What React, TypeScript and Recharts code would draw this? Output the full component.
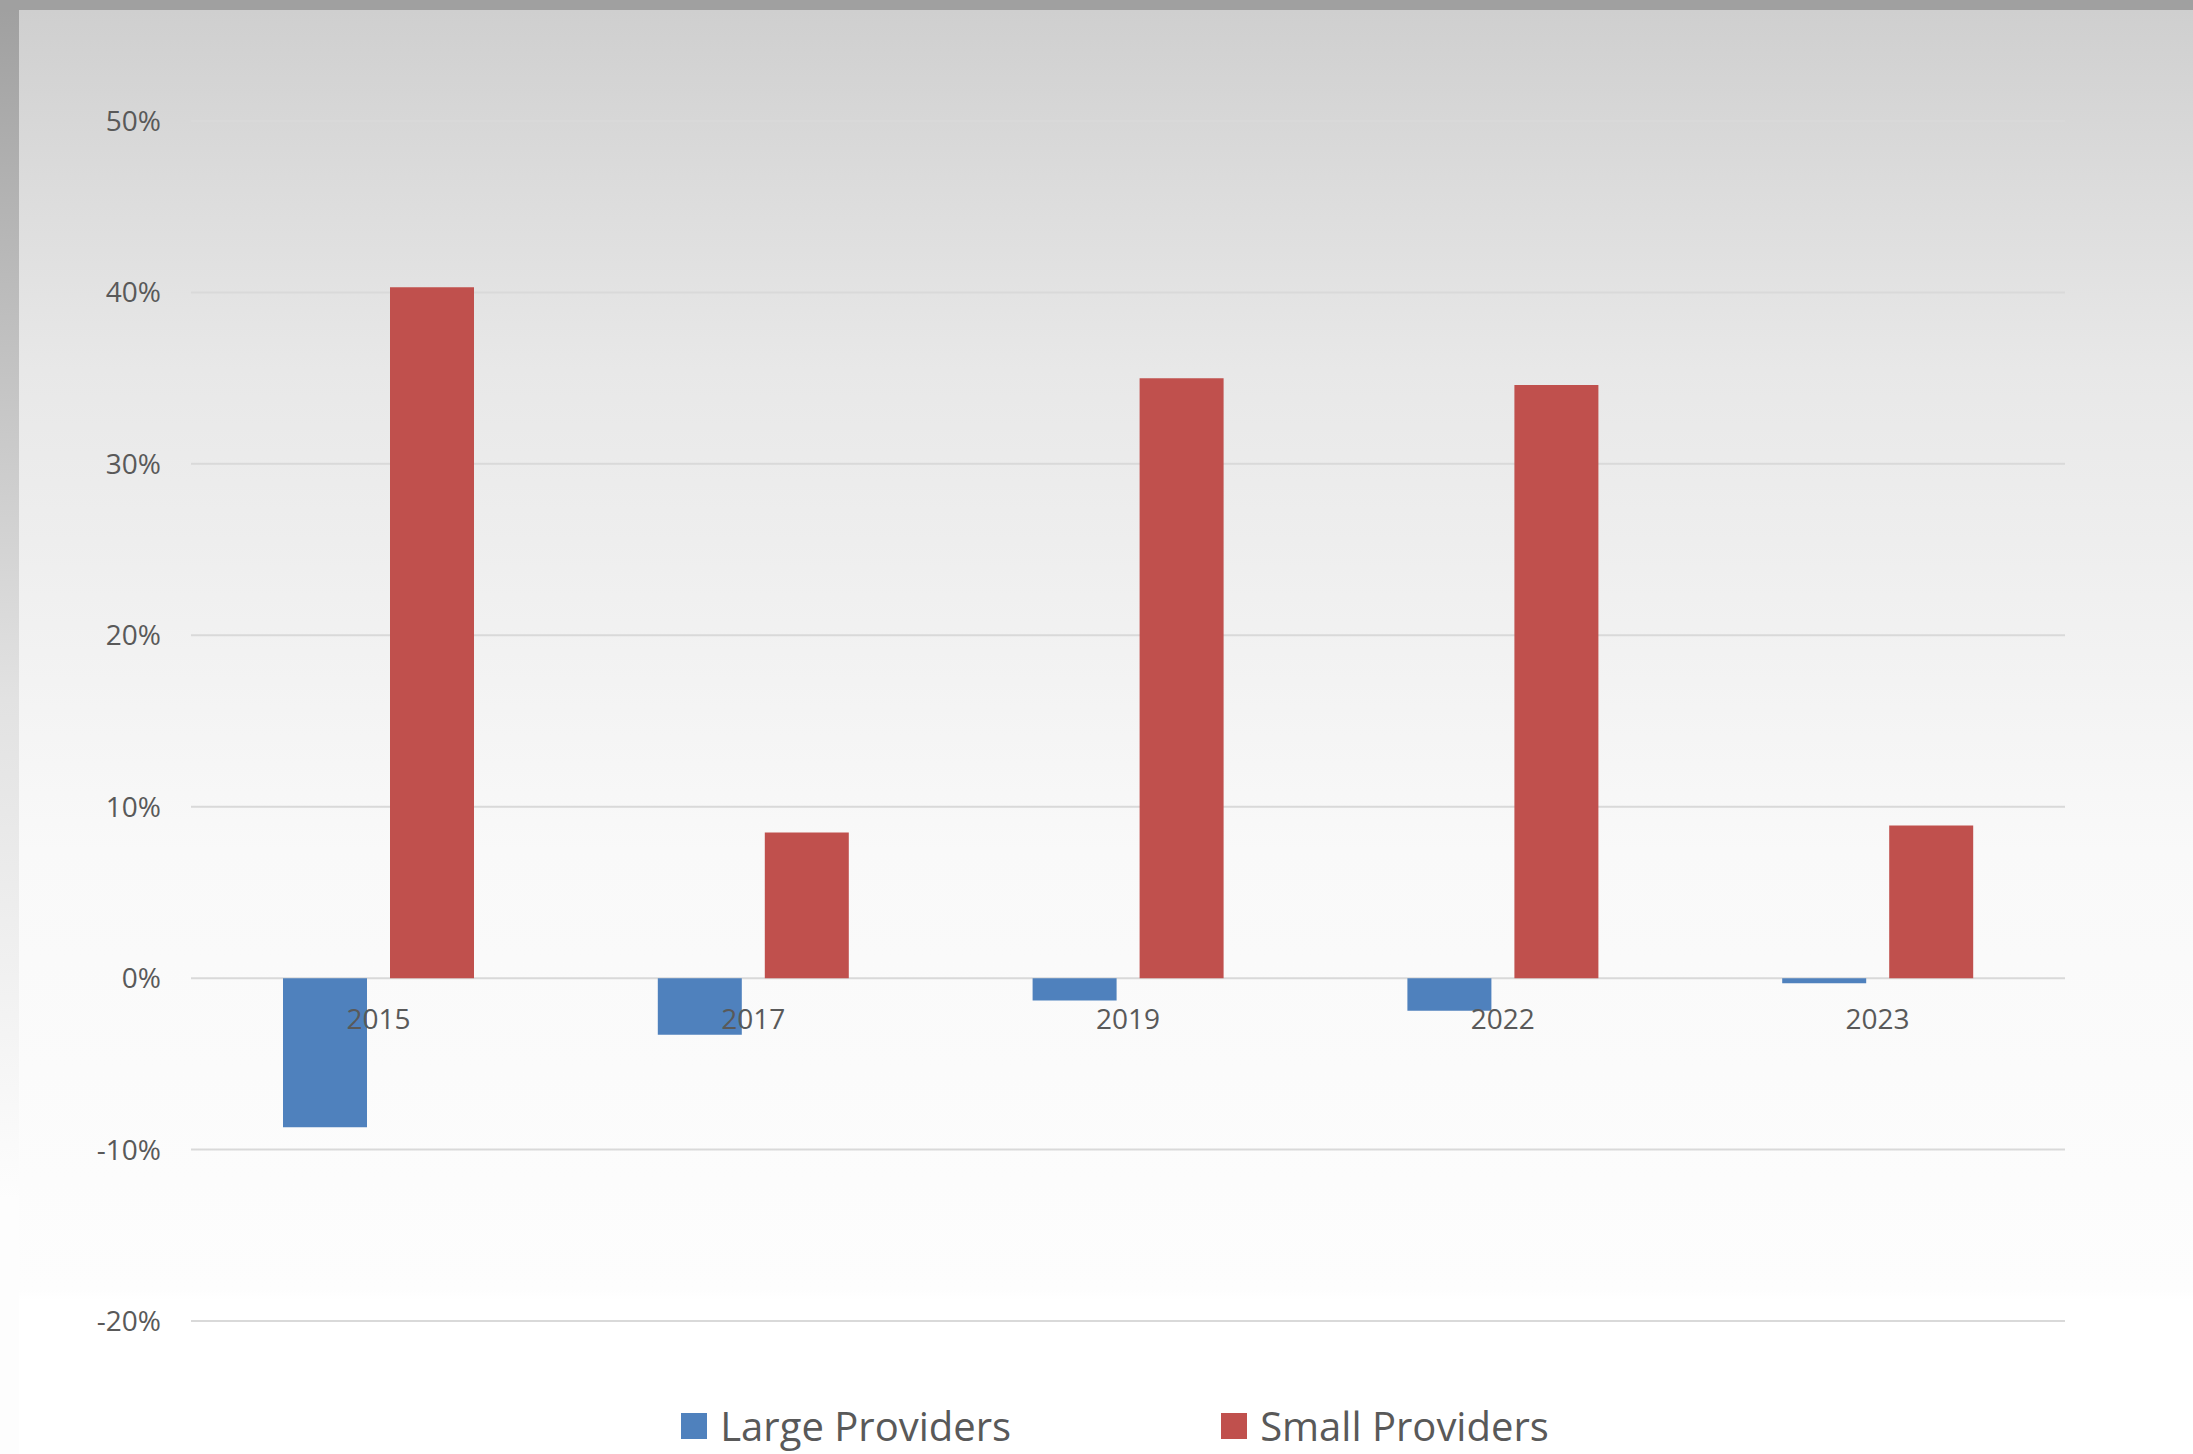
import React from 'react';
import { BarChart, Bar, XAxis, YAxis, CartesianGrid, Legend } from 'recharts';

const years = ['2015', '2017', '2019', '2022', '2023'];
const largeProviders = [-8.7, -3.3, -1.3, -1.9, -0.3];
const smallProviders = [40.3, 8.5, 35.0, 34.6, 8.9];
const yTicks = [-20, -10, 0, 10, 20, 30, 40, 50];

const W = 2193;
const H = 1454;
const Y_MIN = -20;
const Y_MAX = 50;
const PLOT_TOP = 121;
const PLOT_BOTTOM = 1321;
const PLOT_H = PLOT_BOTTOM - PLOT_TOP;

const BLUE = '#4f81bd';
const RED = '#c0504d';
const TEXT = '#595959';
const FONT = '"Open Sans", sans-serif';

const data = years.map((year, i) => ({
  year,
  large: largeProviders[i],
  small: smallProviders[i],
}));

// year labels sit just under the zero line, not at the bottom of the plot
function YearTick(props: any) {
  const { x, y, payload } = props;
  const zeroFromBottom = (PLOT_H * (0 - Y_MIN)) / (Y_MAX - Y_MIN);
  return (
    <text
      x={x}
      y={y - zeroFromBottom + 41}
      dy="0.36em"
      textAnchor="middle"
      fill={TEXT}
      fontSize={28}
      fontFamily={FONT}
    >
      {payload.value}
    </text>
  );
}

function LegendContent() {
  const items = [
    { label: 'Large Providers', color: BLUE },
    { label: 'Small Providers', color: RED },
  ];
  return (
    <div style={{ display: 'flex', justifyContent: 'center', gap: 210, paddingLeft: 37 }}>
      {items.map((it) => (
        <div key={it.label} style={{ display: 'flex', alignItems: 'center', gap: 13 }}>
          <span style={{ width: 26, height: 26, background: it.color, display: 'inline-block' }} />
          <span style={{ fontSize: 40, color: TEXT, fontFamily: FONT, lineHeight: '42px', whiteSpace: 'nowrap' }}>
            {it.label}
          </span>
        </div>
      ))}
    </div>
  );
}

export default function App() {
  return (
    <div
      style={{
        position: 'absolute',
        left: 0,
        top: 0,
        width: W,
        height: H,
        overflow: 'hidden',
        background: 'linear-gradient(to bottom, #9f9f9f 0px, #b3b3b3 200px, #e2e2e2 700px, #fdfdfd 1200px)',
      }}
    >
      <div style={{ position: 'absolute', left: 0, top: 0, width: W, height: 10, background: '#a0a0a0' }} />
      <div
        style={{
          position: 'absolute',
          left: 19,
          top: 10,
          right: 0,
          bottom: 0,
          background:
            'linear-gradient(to bottom, #cfcfcf 0px, #dcdcdc 180px, #e8e8e8 360px, #f9f9f9 840px, #fdfdfd 1280px, #ffffff 1290px)',
        }}
      />
      <div style={{ position: 'absolute', left: 0, top: 0 }}>
        <BarChart
          width={W}
          height={H}
          data={data}
          margin={{ top: PLOT_TOP, right: 128, bottom: H - PLOT_BOTTOM - 30, left: 0 }}
          barGap={23}
          barSize={84}
        >
          <CartesianGrid vertical={false} stroke="#d9d9d9" strokeWidth={2} />
          <XAxis
            dataKey="year"
            height={30}
            axisLine={false}
            tickLine={false}
            tickSize={0}
            tickMargin={0}
            interval={0}
            tick={<YearTick />}
          />
          <YAxis
            width={191}
            domain={[Y_MIN, Y_MAX]}
            ticks={yTicks}
            interval={0}
            axisLine={false}
            tickLine={false}
            tickMargin={24}
            tickFormatter={(v) => `${v}%`}
            tick={{ fill: TEXT, fontSize: 28, fontFamily: FONT }}
          />
          <Legend
            verticalAlign="middle"
            align="center"
            layout="horizontal"
            wrapperStyle={{ top: 1405, left: 0, width: W }}
            content={<LegendContent />}
          />
          <Bar dataKey="large" name="Large Providers" fill={BLUE} isAnimationActive={false} />
          <Bar dataKey="small" name="Small Providers" fill={RED} isAnimationActive={false} />
        </BarChart>
      </div>
    </div>
  );
}
